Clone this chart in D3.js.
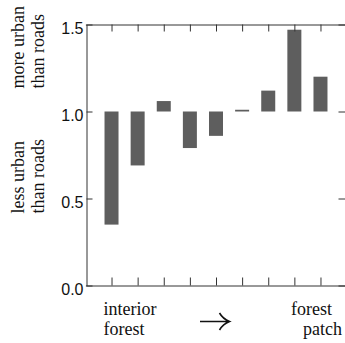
<!DOCTYPE html>
<html>
<head>
<meta charset="utf-8">
<script src="https://cdn.jsdelivr.net/npm/d3@7"></script>
<style>
  body { margin: 0; background: #fff; }
  .tick text { font-family: "Liberation Sans", Arial, sans-serif; font-size: 16px; fill: #111; }
</style>
</head>
<body>
<div id="chart"></div>
<script>
// sites ordered from interior forest to forest patch
const sites = [1, 2, 3, 4, 5, 6, 7, 8, 9];
const ratios = [0.35, 0.69, 1.06, 0.79, 0.86, 1.01, 1.12, 1.47, 1.20];
const yTicks = [0, 0.5, 1.0, 1.5];
const baseline = 1.0;

const width = 345, height = 343;
const plotLeft = 86.5, plotRight = 346.5, plotTop = 24.5, plotBottom = 285.5;
const serif = "'Liberation Serif', 'Times New Roman', Times, 'DejaVu Serif', serif";

const svg = d3.select('#chart').append('svg')
  .attr('width', width)
  .attr('height', height);

const x = d3.scaleLinear().domain([0, 10]).range([85.4, 346.6]);
const y = d3.scaleLinear().domain([0, 1.5]).range([plotBottom, plotTop]);
const barW = 14;

// bars hang from the 1.0 line
svg.append('g').selectAll('rect')
  .data(ratios)
  .enter().append('rect')
    .attr('x', (d, i) => x(sites[i]) - barW / 2)
    .attr('y', d => y(Math.max(d, baseline)))
    .attr('width', barW)
    .attr('height', d => Math.abs(y(d) - y(baseline)))
    .style('fill', '#5e5e5e');

const axisStyle = g => {
  g.select('.domain').attr('stroke', '#333');
  g.selectAll('.tick line').attr('stroke', '#333');
};

svg.append('g')
  .attr('transform', 'translate(0,' + plotBottom + ')')
  .call(d3.axisBottom(x).tickValues(sites).tickSize(-8).tickSizeOuter(0).tickFormat(''))
  .call(axisStyle);

svg.append('g')
  .attr('transform', 'translate(0,' + plotTop + ')')
  .call(d3.axisTop(x).tickValues(sites).tickSize(-7).tickSizeOuter(0).tickFormat(''))
  .call(axisStyle);

svg.append('g')
  .attr('transform', 'translate(' + plotLeft + ',0)')
  .call(d3.axisLeft(y).tickValues(yTicks).tickSize(-6).tickSizeOuter(0)
    .tickPadding(3).tickFormat(d3.format('.1f')))
  .call(axisStyle)
  .call(g => g.selectAll('.tick text').attr('dy', '0.56em'));

svg.append('g')
  .attr('transform', 'translate(' + plotRight + ',0)')
  .call(d3.axisRight(y).tickValues(yTicks).tickSize(-8).tickSizeOuter(0).tickFormat(''))
  .call(axisStyle);

const note = () => svg.append('text')
  .style('font-family', serif)
  .style('font-size', '18px')
  .style('fill', '#111');

// side labels
const sideLabel = (yPos, lines) => {
  const t = note().attr('transform', 'translate(24,' + yPos + ') rotate(-90)');
  lines.forEach((s, i) => {
    t.append('tspan').attr('x', 0).attr('dy', i ? 20 : 0).text(s);
  });
};
sideLabel(88.5, ['more urban', 'than roads']);
sideLabel(213.5, ['less urban', 'than roads']);

// bottom labels
note().attr('x', 103.5).attr('y', 315).text('interior');
note().attr('x', 103.5).attr('y', 335).text('forest');
note().attr('x', 332).attr('y', 315).attr('text-anchor', 'end').text('forest');
note().attr('x', 342).attr('y', 335).attr('text-anchor', 'end').text('patch');

// arrow
svg.append('path')
  .attr('d', 'M200,321.5H229M219.5,313Q223,319 229.5,321.5Q223,324 219.5,330')
  .attr('fill', 'none')
  .attr('stroke', '#111')
  .attr('stroke-width', 1.6);
</script>
</body>
</html>
